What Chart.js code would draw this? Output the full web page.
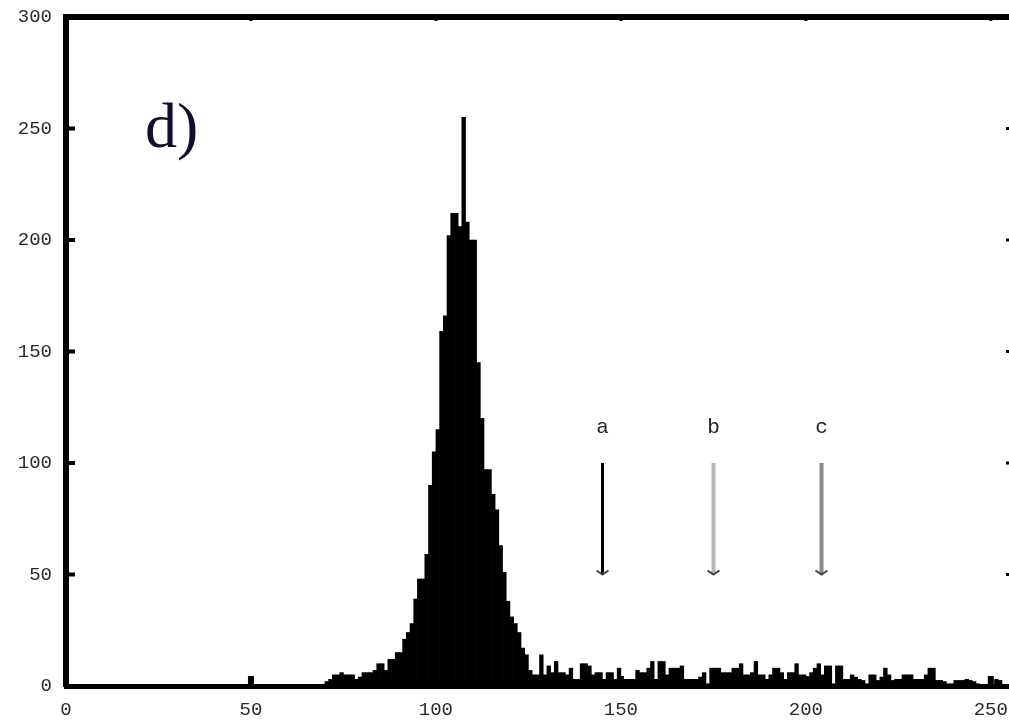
<!DOCTYPE html>
<html>
<head>
<meta charset="utf-8">
<script src="https://cdn.jsdelivr.net/npm/chart.js@4.4.0/dist/chart.umd.min.js"></script>
<style>
  html, body { margin: 0; padding: 0; background: #fff; overflow: hidden; }
  /* the figure is cropped on the right, like the source */
  #wrap { width: 1013px; height: 720px; position: relative; }
</style>
</head>
<body>
<div id="wrap"><canvas id="hist"></canvas></div>
<script>
// histogram counts, one per grey level 0..255
const binValues = [
    0, 0, 0, 0, 0, 0, 0, 0, 0, 0,
    0, 0, 0, 0, 0, 0, 0, 0, 0, 0,
    0, 0, 0, 0, 0, 0, 0, 0, 0, 0,
    0, 0, 0, 0, 0, 0, 0, 0, 0, 0,
    0, 0, 0, 0, 0, 0, 0, 0, 0, 0,
    0, 0, 0, 0, 0, 0, 0, 0, 0, 0,
    0, 0, 0, 0, 0, 0, 0, 0, 0, 0,
    2, 3, 5, 5, 6, 5, 5, 5, 3, 4,            // 70
    6, 6, 6, 7, 10, 10, 7, 12, 12, 15,       // 80
    15, 21, 24, 28, 39, 48, 48, 59, 90, 105, // 90
    115, 159, 166, 202, 212, 212, 206, 255, 208, 200, // 100
    200, 145, 120, 97, 97, 86, 79, 63, 51, 38,        // 110
    31, 28, 24, 17, 14, 7, 5, 5, 14, 5,      // 120
    9, 6, 11, 6, 6, 5, 8, 3, 3, 10,          // 130
    10, 9, 5, 6, 6, 3, 6, 6, 3, 8,           // 140
    3, 3, 3, 3, 7, 6, 6, 8, 11, 3,           // 150
    11, 11, 5, 8, 8, 8, 9, 3, 3, 3,          // 160
    3, 4, 6, 1, 8, 8, 8, 6, 6, 6,            // 170
    8, 8, 10, 5, 5, 6, 11, 5, 5, 3,          // 180
    5, 8, 8, 6, 3, 6, 6, 10, 5, 5,           // 190
    4, 6, 8, 10, 5, 9, 9, 1, 9, 9,           // 200
    3, 3, 5, 4, 3, 2.5, 1, 5, 5, 2.5,        // 210
    4, 8, 5, 2.5, 3, 3, 5, 5, 5, 3,          // 220
    3, 3, 5, 8, 8, 2.5, 2.5, 2, 1, 1,        // 230
    2.5, 2.5, 2.5, 3, 2.5, 2, 1, 0.5, 0.5, 0.5, // 240
    0.5, 3, 2.5, 0.5, 0.5, 0.5               // 250
];

const xTickValues = [0, 50, 100, 150, 200, 250];
const yTickValues = [0, 50, 100, 150, 200, 250, 300];

// arrows a, b, c (grey level, from count -> to count)
const markerLabels = ['a', 'b', 'c'];
const markerBins = [145, 175, 204];
const markerFrom = 100;
const markerTo = 50;
const markerTextAt = 116;

const panelLabel = 'd)';

const points = binValues.map((v, i) => ({ x: i + 0.5, y: v }));

const markerColors = ['#000000', '#b6b6b6', '#8a8a8a'];
const markerWidths = [3, 4, 4];

// top frame line, inward ticks, arrows and panel letter
const framePlugin = {
    id: 'frame',
    afterDraw(chart) {
        const ctx = chart.ctx;
        const area = chart.chartArea;
        const xs = chart.scales.x;
        const ys = chart.scales.y;
        ctx.save();
        ctx.fillStyle = '#000';
        ctx.fillRect(area.left - 3, area.top - 3, area.right - area.left + 3, 6);

        yTickValues.forEach(v => {
            if (v === 0 || v === 300) return;
            const py = ys.getPixelForValue(v);
            ctx.fillRect(area.left, py - 2, 9, 4);
            ctx.fillRect(area.right - 7, py - 1.5, 4, 3);
        });
        xTickValues.forEach(v => {
            if (v === 0) return;
            const px = xs.getPixelForValue(v);
            ctx.fillRect(px - 3, area.bottom - 10, 6, 10);
            ctx.fillRect(px - 1.5, area.top, 3, 4);
        });

        markerLabels.forEach((lab, i) => {
            const px = Math.round(xs.getPixelForValue(markerBins[i])) + 0.5;
            const top = ys.getPixelForValue(markerFrom);
            const bot = ys.getPixelForValue(markerTo);
            ctx.strokeStyle = markerColors[i];
            ctx.lineWidth = markerWidths[i];
            ctx.beginPath();
            ctx.moveTo(px, top);
            ctx.lineTo(px, bot);
            ctx.stroke();
            ctx.strokeStyle = '#444';
            ctx.lineWidth = 2;
            ctx.beginPath();
            ctx.moveTo(px - 6, bot - 4);
            ctx.lineTo(px, bot);
            ctx.lineTo(px + 6, bot - 4);
            ctx.stroke();

            ctx.fillStyle = '#222';
            ctx.font = '21px "Liberation Mono"';
            ctx.textAlign = 'center';
            ctx.textBaseline = 'middle';
            ctx.fillText(lab, px, ys.getPixelForValue(markerTextAt));
        });

        ctx.fillStyle = '#10102e';
        ctx.font = '64px "Liberation Serif"';
        ctx.textAlign = 'left';
        ctx.textBaseline = 'alphabetic';
        ctx.fillText(panelLabel, area.left + 79, area.top + 130);
        ctx.restore();
    }
};

new Chart(document.getElementById('hist'), {
    type: 'bar',
    data: {
        datasets: [{
            data: points,
            backgroundColor: '#000',
            borderWidth: 0,
            barPercentage: 1,
            categoryPercentage: 1
        }]
    },
    options: {
        responsive: true,
        maintainAspectRatio: false,
        animation: false,
        layout: { padding: { top: 17, right: 0, bottom: 0, left: 0 } },
        plugins: {
            legend: { display: false },
            tooltip: { enabled: false }
        },
        scales: {
            x: {
                type: 'linear',
                min: 0,
                max: 256,
                offset: false,
                afterBuildTicks: s => { s.ticks = xTickValues.map(v => ({ value: v })); },
                afterFit: s => {
                    s.height = 34;
                    s.paddingLeft = 0;
                    s.paddingRight = 0;
                },
                grid: { display: false, drawTicks: false },
                border: { display: true, color: '#000', width: 5 },
                ticks: {
                    padding: 13,
                    maxRotation: 0,
                    autoSkip: false,
                    color: '#2a2a2a',
                    font: { family: 'Liberation Mono', size: 19 }
                }
            },
            y: {
                min: 0,
                max: 300,
                afterBuildTicks: s => { s.ticks = yTickValues.map(v => ({ value: v })); },
                afterFit: s => {
                    s.width = 66;
                    s.paddingTop = 0;
                    s.paddingBottom = 0;
                },
                grid: { display: false, drawTicks: false },
                border: { display: true, color: '#000', width: 6 },
                ticks: {
                    padding: 14,
                    color: '#2a2a2a',
                    font: { family: 'Liberation Mono', size: 19 }
                }
            }
        }
    },
    plugins: [framePlugin]
});
</script>
</body>
</html>
